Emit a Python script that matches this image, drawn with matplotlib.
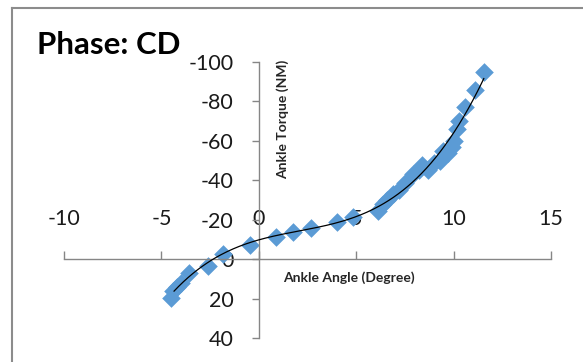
import numpy as np
import matplotlib
matplotlib.use("Agg")
import matplotlib.pyplot as plt
from matplotlib.lines import Line2D

# ankle angle (deg) vs ankle torque (NM)
angle = [-4.5, -4.4, -4.2, -4.0, -3.6, -2.6, -1.85, -0.45, 0.9, 1.75, 2.7, 4.0, 4.85,
         6.1, 6.4, 6.6, 6.9, 7.2, 7.5, 7.9, 8.2, 8.4, 8.7, 9.0, 9.3, 9.45, 9.7, 9.9,
         10.0, 10.2, 10.3, 10.6, 11.1, 11.55]
torque = [19.5, 16, 14, 12, 7, 3.5, -2.5, -7, -11, -13.7, -16, -18.8, -21.5,
          -24.5, -28, -30, -33, -35, -38.5, -43, -45, -47.5, -45, -49, -50, -55, -54, -57,
          -60, -66, -70, -77, -86, -95]
xticks = [-10, -5, 0, 5, 10, 15]
yticks = [-100, -80, -60, -40, -20, 0, 20, 40]

plt.rcParams['font.family'] = ['Lato', 'DejaVu Sans']
plt.rcParams['axes.unicode_minus'] = False  # excel uses plain hyphen

W, H = 583, 362
fig = plt.figure(figsize=(W / 100, H / 100), dpi=100)
ax = fig.add_axes([64 / W, (H - 338) / H, 487 / W, 276 / H])

ax.scatter(angle, torque, marker='D', s=90, color='#5B9BD5', zorder=2, linewidths=0)
# polynomial trendline (order 3) like excel
coef = np.polyfit(angle, torque, 3)
xs = np.linspace(min(angle) + 0.15, max(angle), 200)
ax.plot(xs, np.polyval(coef, xs), color='black', lw=0.9, zorder=3)

ax.set_xlim(-10, 15)
ax.set_ylim(40, -100)
ax.set_xticks(xticks)
ax.set_yticks(yticks)

for s in ['right', 'bottom']:
    ax.spines[s].set_visible(False)
ax.spines['top'].set_position(('data', 0))
ax.spines['left'].set_position(('data', 0))
for s in ['top', 'left']:
    ax.spines[s].set_color('#868686')
    ax.spines[s].set_linewidth(1.0)
ax.xaxis.set_ticks_position('top')
ax.tick_params(axis='x', direction='out', length=6, width=1, color='#868686',
               pad=16, labelsize=15.5, labelcolor='#1a1a1a')
ax.tick_params(axis='y', direction='out', length=5, width=1, color='#868686',
               pad=13, labelsize=15.5, labelcolor='#1a1a1a')
ax.patch.set_alpha(0)

fig.text(37 / W, 1 - 45 / H, 'Phase: CD', fontsize=22.5, fontweight='bold', va='center', ha='left')
fig.text(283 / W, 1 - 278 / H, 'Ankle Angle (Degree)', fontsize=10, fontweight='bold',
         va='center', ha='left', color='#262626')
fig.text(283 / W, 1 - 60 / H, 'Ankle Torque (NM)', fontsize=10, fontweight='bold',
         va='top', ha='center', rotation=90, color='#262626')

# chart area border (only top and left edges show)
fig.add_artist(Line2D([12 / W, 12 / W], [0, 1 - 8 / H], color='#8c8c8c', lw=1.5))
fig.add_artist(Line2D([12 / W, 1], [1 - 8 / H, 1 - 8 / H], color='#8c8c8c', lw=1.5))

fig.savefig('out.png', dpi=100)
